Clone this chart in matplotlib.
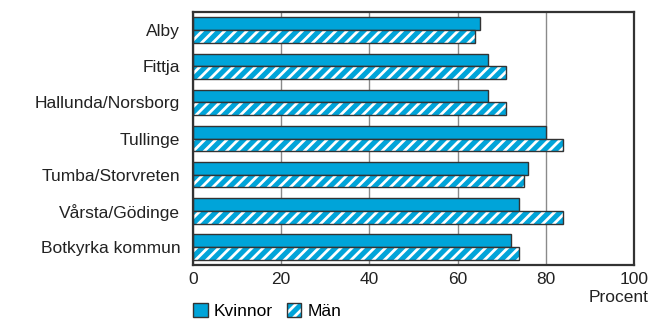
import matplotlib.pyplot as plt
import numpy as np
from matplotlib.patches import Patch
from matplotlib.legend_handler import HandlerTuple

plt.rcParams['font.family'] = ['Liberation Sans', 'DejaVu Sans']
plt.rcParams['hatch.linewidth'] = 2.0

omraden = ['Alby', 'Fittja', 'Hallunda/Norsborg', 'Tullinge',
           'Tumba/Storvreten', 'Vårsta/Gödinge', 'Botkyrka kommun']
kvinnor = [65, 67, 67, 80, 76, 74, 72]
man = [64, 71, 71, 84, 75, 84, 74]

blue = '#00a4d9'
dark = '#333333'
fs = 12.5

fig = plt.figure(figsize=(6.49, 3.2), dpi=100)
ax = fig.add_axes([0.297, 0.172, 0.68, 0.79])

y = np.arange(len(omraden))
h = 0.355
ax.barh(y - h / 2, kvinnor, height=h, color=blue, edgecolor=dark, linewidth=1, zorder=3)
# hatched bars: white stripes on blue, then a dark outline on top
ax.barh(y + h / 2, man, height=h, color=blue, edgecolor='white', hatch='///', linewidth=0, zorder=3)
ax.barh(y + h / 2, man, height=h, fill=False, edgecolor=dark, linewidth=1, zorder=4)

ax.set_ylim(len(omraden) - 0.5, -0.5)
ax.set_xlim(0, 100)
ax.set_xticks([0, 20, 40, 60, 80, 100])
ax.set_yticks(y)
ax.set_yticklabels(omraden)
ax.tick_params(axis='y', length=0, pad=9, labelsize=fs, colors='#222222')
ax.tick_params(axis='x', length=0, pad=5, labelsize=fs, colors='#222222')
ax.grid(axis='x', color='#8a8a8a', linewidth=1, zorder=0)
for s in ax.spines.values():
    s.set_color(dark)
    s.set_linewidth(1.6)
    s.set_zorder(5)

fig.text(1.0, 0.07, 'Procent', ha='right', va='center', fontsize=fs, color='#222222')

h_k = Patch(facecolor=blue, edgecolor=dark, linewidth=1)
h_m1 = Patch(facecolor=blue, edgecolor='white', hatch='///', linewidth=0)
h_m2 = Patch(fill=False, edgecolor=dark, linewidth=1)
leg = fig.legend(handles=[h_k, (h_m1, h_m2)], labels=['Kvinnor', 'Män'],
                 handler_map={tuple: HandlerTuple(ndivide=1, pad=0)},
                 loc='center left', bbox_to_anchor=(0.297, 0.027),
                 ncol=2, frameon=False, fontsize=fs, handlelength=0.85, handleheight=0.85,
                 handletextpad=0.35, columnspacing=0.8, borderaxespad=0, borderpad=0)

fig.savefig('out.png', dpi=100)
